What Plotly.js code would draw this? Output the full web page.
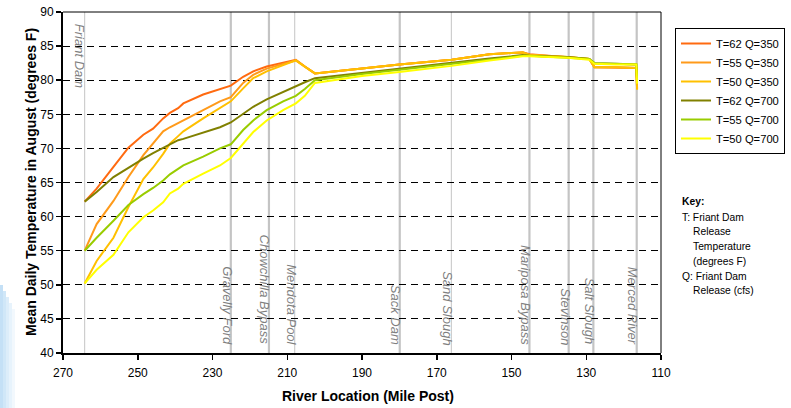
<!DOCTYPE html>
<html><head><meta charset="utf-8">
<script src="https://cdn.plot.ly/plotly-3.0.1.min.js"></script>
<style>html,body{margin:0;padding:0;background:#fff}#chart{width:791px;height:408px}</style>
</head><body><div id="chart"></div>
<script>
// ---- data ----
const mileposts = [264.2, 261.0, 256.5, 252.5, 248.5, 245.9, 243.2, 241.4, 239.2, 237.8, 232.5, 228.0, 225.1, 221.8, 219.1, 215.5, 211.1, 207.7, 205.3, 202.6, 190.0, 180.0, 166.0, 155.9, 150.0, 147.0, 145.2, 135.0, 129.2, 127.8, 122.0, 116.6, 116.4];
const t62q350 = [62.2, 64.1, 67.3, 70.1, 72.0, 72.9, 74.4, 75.2, 75.9, 76.6, 77.9, 78.7, 79.2, 80.5, 81.3, 82.0, 82.6, 83.0, 82.0, 81.0, 81.7, 82.3, 83.0, 83.8, 84.0, 84.1, 83.8, 83.4, 83.1, 81.9, 81.9, 81.8, 78.9];
const t55q350 = [55.0, 58.9, 62.3, 65.8, 69.0, 70.7, 72.5, 73.1, 73.7, 74.1, 75.6, 76.9, 77.5, 79.6, 80.8, 81.7, 82.4, 82.9, 82.0, 81.0, 81.7, 82.3, 83.0, 83.8, 84.0, 84.0, 83.7, 83.4, 83.1, 81.9, 81.9, 81.8, 78.7];
const t50q350 = [50.2, 53.5, 56.9, 61.4, 65.5, 67.2, 69.2, 70.7, 71.8, 72.5, 74.4, 75.9, 76.9, 78.8, 80.3, 81.3, 82.2, 82.9, 82.0, 81.0, 81.7, 82.3, 83.0, 83.8, 84.0, 84.1, 83.7, 83.4, 83.1, 81.9, 81.9, 81.8, 78.6];
const t62q700 = [62.2, 63.6, 65.8, 67.2, 68.5, 69.3, 70.1, 70.6, 71.2, 71.4, 72.3, 73.1, 73.8, 75.0, 76.1, 77.2, 78.3, 79.1, 79.7, 80.3, 81.1, 81.7, 82.6, 83.2, 83.5, 83.7, 83.6, 83.4, 83.1, 82.5, 82.4, 82.3, 80.0];
const t55q700 = [55.0, 56.9, 59.4, 61.7, 63.3, 64.2, 65.3, 66.2, 67.0, 67.5, 68.8, 70.0, 70.6, 72.7, 74.1, 75.6, 76.9, 77.7, 78.7, 80.0, 80.9, 81.5, 82.4, 83.0, 83.4, 83.6, 83.6, 83.3, 83.1, 82.5, 82.4, 82.3, 79.8];
const t50q700 = [50.2, 52.2, 54.4, 57.7, 59.9, 60.9, 62.1, 63.4, 64.1, 64.8, 66.3, 67.5, 68.6, 70.7, 72.4, 74.1, 75.6, 76.6, 77.7, 79.6, 80.6, 81.2, 82.1, 82.9, 83.3, 83.5, 83.5, 83.3, 83.0, 82.4, 82.3, 82.3, 79.5];
const seriesNames = ['T=62 Q=350', 'T=55 Q=350', 'T=50 Q=350', 'T=62 Q=700', 'T=55 Q=700', 'T=50 Q=700'];
const landmarkNames = ['Friant Dam', 'Gravelly Ford', 'Chowchilla Bypass', 'Mendota Pool', 'Sack Dam', 'Sand Slough', 'Mariposa Bypass', 'Stevinson', 'Salt Slough', 'Merced River'];
const landmarkMiles = [264.2, 225.1, 214.9, 208.0, 179.9, 166.1, 145.2, 134.7, 128.1, 116.5];
const xTickVals = [270, 250, 230, 210, 190, 170, 150, 130, 110];
const yTickVals = [40, 45, 50, 55, 60, 65, 70, 75, 80, 85, 90];
const keyLines = ['<b>Key:</b>', 'T: Friant Dam', 'Release', 'Temperature', '(degrees F)', 'Q: Friant Dam', 'Release (cfs)'];

// ---- styles ----
const FONT = 'Liberation Sans, Arial, sans-serif';
const colors = ['#FF6A10', '#FF9A1A', '#FFC000', '#808000', '#99CC00', '#FFFF00'];
const thinLandmarks = new Set(['Friant Dam', 'Mendota Pool', 'Sand Slough']);

const allSeries = [t62q350, t55q350, t50q350, t62q700, t55q700, t50q700];
const traces = allSeries.map((ys, i) => ({
  type: 'scatter', mode: 'lines', x: mileposts, y: ys, name: seriesNames[i],
  line: {color: colors[i], width: 2}
}));

const shapes = landmarkNames.map((n, i) => ({
  type: 'line', xref: 'x', yref: 'paper', x0: landmarkMiles[i], x1: landmarkMiles[i], y0: 0, y1: 1,
  line: {color: '#c4c4c4', width: thinLandmarks.has(n) ? 1 : 2.2}, layer: 'below'
}));
// top and right border
shapes.push({type: 'line', xref: 'paper', yref: 'paper', x0: 0, x1: 1, y0: 1, y1: 1, line: {color: '#000', width: 1}});
shapes.push({type: 'line', xref: 'paper', yref: 'paper', x0: 1, x1: 1, y0: 0, y1: 1, line: {color: '#000', width: 1}});
// faint blue strip on far left
const pw = 598, ph = 341;
[[0, 3, '#c4e0f6'], [3, 6, '#d0e7f8'], [6, 9, '#dcedfa'], [9, 12, '#e7f3fc'], [12, 15, '#f2f8fd']].forEach(([a, b, c]) => {
  shapes.push({type: 'rect', xref: 'paper', yref: 'paper', x0: (a - 63) / pw, x1: (b - 63) / pw,
    y0: (353 - 408) / ph, y1: (353 - 285 - a * 2) / ph, fillcolor: c, line: {width: 0}, layer: 'below'});
});

const annotations = landmarkNames.map((n, i) => {
  const top = n === 'Friant Dam';
  return {
    x: landmarkMiles[i], xref: 'x', y: top ? 90 : 40, yref: 'y',
    xanchor: 'center', yanchor: top ? 'top' : 'bottom', xshift: top ? -4.5 : -3.5, yshift: top ? -10 : 6,
    textangle: 90, showarrow: false, text: '<i>' + n + '</i>',
    font: {family: FONT, size: 13, color: '#7f7f7f'}
  };
});
const keyY = [201.7, 217.5, 231, 246, 261, 276, 290.5];
const keyX = [680, 680, 691, 691, 691, 680, 691];
keyLines.forEach((t, i) => {
  annotations.push({x: (keyX[i] - 63) / pw, xref: 'paper', y: (353 - keyY[i]) / ph, yref: 'paper',
    xanchor: 'left', yanchor: 'middle', showarrow: false, text: t,
    font: {family: FONT, size: 10.3, color: '#000'}});
});
annotations.push({x: (368 - 63) / pw, xref: 'paper', y: (353 - 396) / ph, yref: 'paper',
  xanchor: 'center', yanchor: 'middle', showarrow: false, text: '<b>River Location (Mile Post)</b>',
  font: {family: FONT, size: 14, color: '#000'}});
annotations.push({x: (30.5 - 63) / pw, xref: 'paper', y: 0.5, yref: 'paper', textangle: -90,
  xanchor: 'center', yanchor: 'middle', showarrow: false, text: '<b>Mean Daily Temperature in August (degrees F)</b>',
  font: {family: FONT, size: 14, color: '#000'}});

const layout = {
  width: 791, height: 408,
  margin: {l: 63, r: 130, t: 12, b: 55, autoexpand: false},
  paper_bgcolor: '#fff', plot_bgcolor: '#fff',
  font: {family: FONT, size: 12, color: '#000'},
  showlegend: true,
  legend: {x: (675 - 63) / pw, xanchor: 'left', y: (353 - 28) / ph, yanchor: 'top',
    bgcolor: '#fff', bordercolor: '#000', borderwidth: 1, font: {family: FONT, size: 11.2, color: '#000'},
    itemwidth: 30, tracegroupgap: 0},
  xaxis: {range: [270, 110], tickvals: xTickVals, ticktext: xTickVals.map(String),
    showgrid: false, zeroline: false, showline: true, linecolor: '#000', linewidth: 2,
    ticks: 'outside', ticklen: 5, tickcolor: '#000', tickwidth: 1.5, ticklabelstandoff: 3,
    tickfont: {family: FONT, size: 12, color: '#000'}},
  yaxis: {range: [40, 90], tickvals: yTickVals, ticktext: yTickVals.map(String),
    showgrid: true, gridcolor: '#000', gridwidth: 1, griddash: '7px,5px', zeroline: false,
    showline: true, linecolor: '#000', linewidth: 2,
    ticks: 'outside', ticklen: 5, tickcolor: '#000', tickwidth: 1.5,
    tickfont: {family: FONT, size: 12, color: '#000'}},
  shapes: shapes,
  annotations: annotations
};
Plotly.newPlot('chart', traces, layout, {staticPlot: true, displayModeBar: false});
</script></body></html>
